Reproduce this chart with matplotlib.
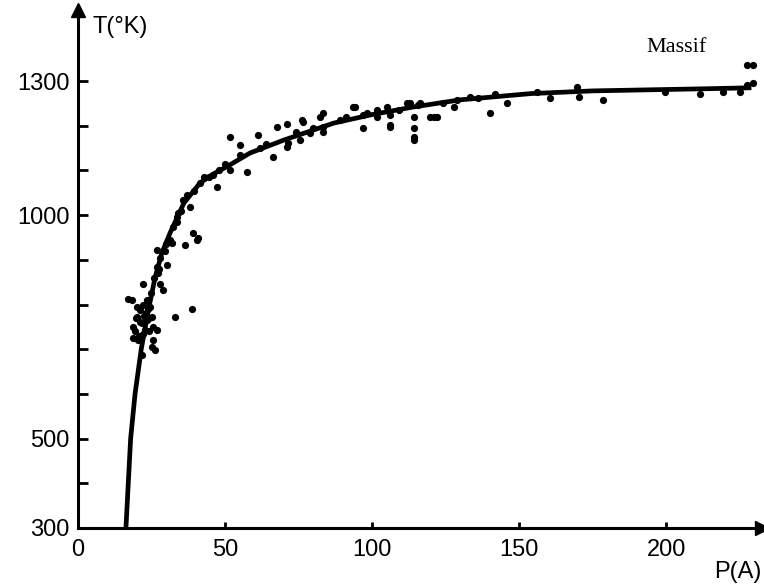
"""T(°K) vs P(A) curve with measured points (Massif)."""

import matplotlib

matplotlib.use("Agg")

import matplotlib.pyplot as plt

# smooth fitted curve
curve_p = [16.3, 17.1, 17.9, 19.4, 21.5, 24.0, 26.2, 28.5, 31.3, 36.0, 41.5, 46.0,
           51.0, 58.5, 70.0, 87.0, 100.0, 114.0, 130.0, 154.0, 175.0, 199.0, 215.0, 229.0]
curve_t = [300, 400, 500, 600, 700, 790, 860, 915, 960, 1027, 1072, 1092,
           1110, 1139, 1168, 1206, 1225, 1242, 1258, 1272, 1278, 1281, 1283, 1285]

# measured points
meas_p = [17.1, 18.3, 20.0, 21.1, 21.7, 23.4, 25.1, 25.6, 22.8, 18.8, 21.7, 25.1, 26.2,
          33.0, 38.7, 22.2, 23.4, 27.9, 29.0, 26.8, 26.8, 30.2, 31.9, 36.4, 40.4, 20.0,
          24.5, 26.8, 18.8, 51.7, 55.1, 57.4, 61.3, 66.4, 67.6, 71.0, 71.0, 75.5, 78.9,
          76.6, 83.4, 39.2, 40.9, 35.8, 41.5, 46.0, 47.2, 32.4, 33.6, 31.3, 38.1, 51.7,
          93.6, 97.0, 97.0, 101.6, 106.1, 106.1, 112.9, 114.1, 114.1, 116.3, 119.7, 122.0,
          127.7, 128.8, 133.3, 140.1, 141.8, 145.8, 156.0, 160.5, 169.6, 170.2, 178.7,
          199.7, 211.6, 219.5, 225.2, 227.4, 229.7, 227.4, 229.7, 76.1, 82.3, 83.4, 71.5,
          83.4, 94.2, 98.2, 101.6, 105.0, 106.1, 111.8, 114.1, 114.1, 120.9, 115.7, 89.1,
          28.0, 30.0, 34.0, 37.0, 43.0, 48.0, 55.0, 62.0, 22.0, 24.0, 20.5, 23.0, 27.5,
          19.5, 21.0, 22.5, 24.0, 25.5, 20.8, 23.8, 22.0, 24.8, 19.8, 26.0, 27.2, 29.5,
          33.5, 35.0, 39.5, 44.5, 50.0, 64.0, 74.0, 80.0, 91.0, 109.0, 124.0, 136.0]
meas_t = [812, 810, 773, 788, 758, 765, 773, 750, 743, 724, 687, 706, 698,
          771, 789, 847, 810, 847, 832, 922, 885, 888, 937, 933, 944, 795,
          795, 743, 750, 1175, 1157, 1097, 1179, 1131, 1198, 1205, 1153, 1168, 1183,
          1209, 1198, 959, 948, 1034, 1071, 1090, 1064, 974, 996, 944, 1019, 1101,
          1242, 1224, 1194, 1220, 1198, 1224, 1250, 1175, 1195, 1250, 1220, 1220,
          1242, 1257, 1265, 1228, 1272, 1250, 1276, 1261, 1287, 1265, 1257,
          1276, 1272, 1276, 1276, 1291, 1295, 1336, 1336, 1213, 1220, 1228, 1161,
          1187, 1242, 1228, 1235, 1242, 1202, 1250, 1220, 1168, 1220, 1246, 1213,
          905, 935, 1005, 1045, 1085, 1100, 1135, 1150, 735, 770, 720, 780, 880,
          740, 760, 775, 740, 720, 730, 790, 800, 825, 770, 860, 870, 920,
          985, 1010, 1055, 1085, 1115, 1160, 1185, 1195, 1220, 1236, 1250, 1262]

x_ticks = [0, 50, 100, 150, 200]
y_major = [300, 500, 1000, 1300]
y_minor = [400, 600, 700, 800, 900, 1100, 1200]

plt.rcParams["font.family"] = ["Liberation Sans", "DejaVu Sans"]

fig = plt.figure(figsize=(7.64, 5.84), dpi=100)
ax = fig.add_axes([78 / 764, 56 / 584, 684 / 764, 518 / 584])
ax.set_xlim(0, 232.6)
ax.set_ylim(300, 1459)

ax.plot(curve_p, curve_t, color="black", lw=3.4, solid_capstyle="butt")
ax.plot(meas_p, meas_t, "o", color="black", ms=5.2, mew=0)

for side in ("top", "right"):
    ax.spines[side].set_visible(False)
for side in ("left", "bottom"):
    ax.spines[side].set_linewidth(2.2)

# arrow heads at the end of each axis
ax.plot(1, 0, ">", color="black", ms=10, transform=ax.transAxes, clip_on=False)
ax.plot(0, 1, "^", color="black", ms=10, transform=ax.transAxes, clip_on=False)

ax.set_xticks(x_ticks)
ax.set_yticks(y_major)
ax.set_yticks(y_minor, minor=True)
ax.tick_params(axis="y", which="both", direction="in", length=7, width=2, pad=6, labelsize=17)
ax.tick_params(axis="x", direction="in", length=4, width=2, pad=8, labelsize=17)

fig.text(120 / 764, 1 - 27 / 584, "T(°K)", fontsize=17, ha="center", va="center")
fig.text(738 / 764, 1 - 572 / 584, "P(A)", fontsize=17, ha="center", va="center")
fig.text(677 / 764, 1 - 47 / 584, "Massif", fontsize=16, ha="center", va="center",
         family=["Liberation Serif", "DejaVu Serif"])

fig.savefig("out.png", dpi=100)
plt.close(fig)
